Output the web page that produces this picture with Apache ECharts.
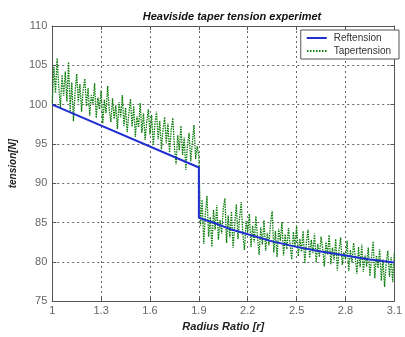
<!DOCTYPE html>
<html>
<head>
<meta charset="utf-8">
<script src="https://cdn.jsdelivr.net/npm/echarts@6/dist/echarts.min.js"></script>
<style>
  html, body { margin: 0; padding: 0; background: #fff; }
  #chart { width: 405px; height: 337px; }
</style>
</head>
<body>
<div id="chart"></div>
<script>
// reference tension (piecewise, drop at r = 1.9)
const refR = [1.0, 1.9, 1.9, 2.0, 2.1, 2.2, 2.35, 2.5, 2.65, 2.8, 2.95, 3.1];
const refT = [100, 92, 85.6, 84.9, 84.1, 83.5, 82.6, 81.9, 81.3, 80.8, 80.3, 79.9];

// measured taper tension, one sample every 0.01 from r = 1.00
const taperStart = 1.0;
const taperStep = 0.01;
const taperT = [
  100.2, 104.8, 101.5, 105.9, 102.3, 99.6, 103.8, 101.1, 104.2, 100.4,
  105.4, 99.2, 102.8, 97.9, 101.6, 103.9, 100.3, 102.6, 99.1, 101.9,
  103.3, 99.8, 102.1, 98.6, 101.2, 100.1, 102.7, 98.3, 100.9, 99.4,
  101.8, 97.6, 100.6, 98.9, 102.4, 99.3, 97.8, 100.8, 98.2, 99.9,
  96.9, 100.3, 98.4, 101.2, 97.3, 99.6, 96.5, 98.8, 100.7, 97.2,
  99.8, 95.9, 98.5, 97.1, 100.2, 96.4, 98.9, 95.5, 97.8, 99.4,
  96.2, 98.7, 94.8, 97.5, 99.1, 95.6, 97.9, 94.3, 96.8, 98.4,
  95.1, 97.6, 93.9, 96.7, 98.3, 94.6, 92.4, 96.1, 94.2, 97.3,
  93.6, 95.8, 91.7, 94.9, 96.4, 92.8, 95.2, 97.4, 93.1, 94.7,
  93.4, 84.6, 87.9, 82.3, 86.1, 88.4, 83.2, 85.7, 81.9, 86.6,
  84.1, 87.2, 82.8, 85.3, 83.6, 86.8, 88.1, 82.4, 85.9, 83.1,
  86.4, 81.8, 84.7, 87.3, 82.9, 85.6, 87.6, 83.4, 81.5, 85.2,
  83.8, 86.1, 81.9, 84.6, 82.5, 85.8, 83.1, 80.9, 84.4, 82.2,
  85.3, 81.4, 83.7, 82.1, 84.9, 86.5, 81.2, 83.9, 80.6, 84.2,
  82.7, 85.1, 80.8, 83.5, 81.6, 84.3, 82.2, 80.3, 83.8, 81.9,
  84.6, 80.7, 82.9, 81.3, 83.9, 79.8, 82.4, 84.1, 80.5, 82.8,
  81.1, 83.6, 79.9, 82.3, 80.6, 83.2, 81.7, 79.4, 82.5, 80.9,
  83.4, 79.7, 81.8, 80.2, 82.9, 78.9, 81.4, 83.1, 79.6, 81.2,
  80.3, 82.7, 78.8, 81.5, 79.9, 82.4, 80.6, 78.5, 81.9, 79.3,
  82.2, 78.7, 80.9, 79.4, 81.8, 78.2, 80.5, 82.6, 77.9, 80.8,
  79.2, 81.6, 77.6, 80.3, 76.8, 79.9, 81.4, 78.1, 80.6, 77.4,
  81.2
];

const xMin = 1, xMax = 3.1, xInterval = 0.3;
const yMin = 75, yMax = 110, yInterval = 5;

const font = "'Liberation Sans', Arial, sans-serif";
const mychart = echarts.init(document.getElementById("chart"));

const refData = refR.map((r, i) => [r, refT[i]]);
const taperData = taperT.map((t, i) => [+(taperStart + i * taperStep).toFixed(2), t]);

// legend swatches: a solid bar and a dotted bar
const solidIcon = "path://M0,0H20V2H0Z";
const dottedIcon = "path://M0,0h1.5v2h-1.5z M3,0h1.5v2h-1.5z M6,0h1.5v2h-1.5z M9,0h1.5v2h-1.5z " +
  "M12,0h1.5v2h-1.5z M15,0h1.5v2h-1.5z M18,0h1.5v2h-1.5z";

const baseX = {
  type: "value",
  min: xMin,
  max: xMax,
  interval: xInterval,
  axisLine: { show: true, lineStyle: { color: "#555", width: 1 } },
  axisTick: { show: true, inside: true, length: 4, lineStyle: { color: "#555" } },
};
const baseY = {
  type: "value",
  min: yMin,
  max: yMax,
  interval: yInterval,
  axisLine: { show: true, lineStyle: { color: "#555", width: 1 } },
  axisTick: { show: true, inside: true, length: 4, lineStyle: { color: "#555" } },
};

const option = {
  animation: false,
  backgroundColor: "#fff",
  title: {
    text: "Heaviside taper tension experimet",
    left: 227,
    textAlign: "center",
    top: 6,
    textStyle: { fontFamily: font, fontSize: 11, fontWeight: "bold", fontStyle: "italic", color: "#111" },
  },
  grid: { left: 51, right: 2, top: 26, bottom: 32, containLabel: false },
  legend: {
    orient: "vertical",
    right: 6,
    top: 30,
    padding: [3, 8, 3, 6],
    itemGap: 3,
    itemWidth: 20,
    itemHeight: 2,
    borderColor: "#555",
    borderWidth: 1,
    borderRadius: 0,
    backgroundColor: "#fff",
    textStyle: { fontFamily: font, fontSize: 10, color: "#333", padding: [0, 0, 0, 2] },
    data: [
      { name: "Reftension", icon: solidIcon },
      { name: "Tapertension", icon: dottedIcon },
    ],
  },
  xAxis: [
    Object.assign({}, baseX, {
      position: "bottom",
      name: "Radius Ratio [r]",
      nameLocation: "middle",
      nameGap: 12,
      nameTextStyle: { fontFamily: font, fontSize: 11, fontWeight: "bold", fontStyle: "italic", color: "#222" },
      axisLabel: { show: true, margin: 4, color: "#666", fontFamily: font, fontSize: 11, showMaxLabel: true },
      splitLine: { show: true, lineStyle: { color: "#666", type: [2, 3], width: 1 } },
    }),
    Object.assign({}, baseX, {
      position: "top",
      axisLabel: { show: false },
      splitLine: { show: false },
    }),
  ],
  yAxis: [
    Object.assign({}, baseY, {
      position: "left",
      name: "tension[N]",
      nameLocation: "middle",
      nameGap: 27,
      nameTextStyle: { fontFamily: font, fontSize: 10, fontWeight: "bold", fontStyle: "italic", color: "#222" },
      axisLabel: { show: true, margin: 5, color: "#666", fontFamily: font, fontSize: 11 },
      splitLine: { show: true, lineStyle: { color: "#666", type: [2, 3], width: 1 } },
    }),
    Object.assign({}, baseY, {
      position: "right",
      axisLabel: { show: false },
      splitLine: { show: false },
    }),
  ],
  series: [
    {
      name: "Tapertension",
      type: "line",
      data: taperData,
      showSymbol: false,
      symbol: "none",
      z: 2,
      itemStyle: { color: "#0b7d0b" },
      lineStyle: { color: "#0b7d0b", width: 1.3, type: [1.5, 1] },
    },
    {
      name: "Reftension",
      type: "line",
      data: refData,
      showSymbol: false,
      symbol: "none",
      z: 3,
      itemStyle: { color: "#1f2fd0" },
      lineStyle: { color: "#1f2fd0", width: 2 },
    },
  ],
};
mychart.setOption(option);
</script>
</body>
</html>
